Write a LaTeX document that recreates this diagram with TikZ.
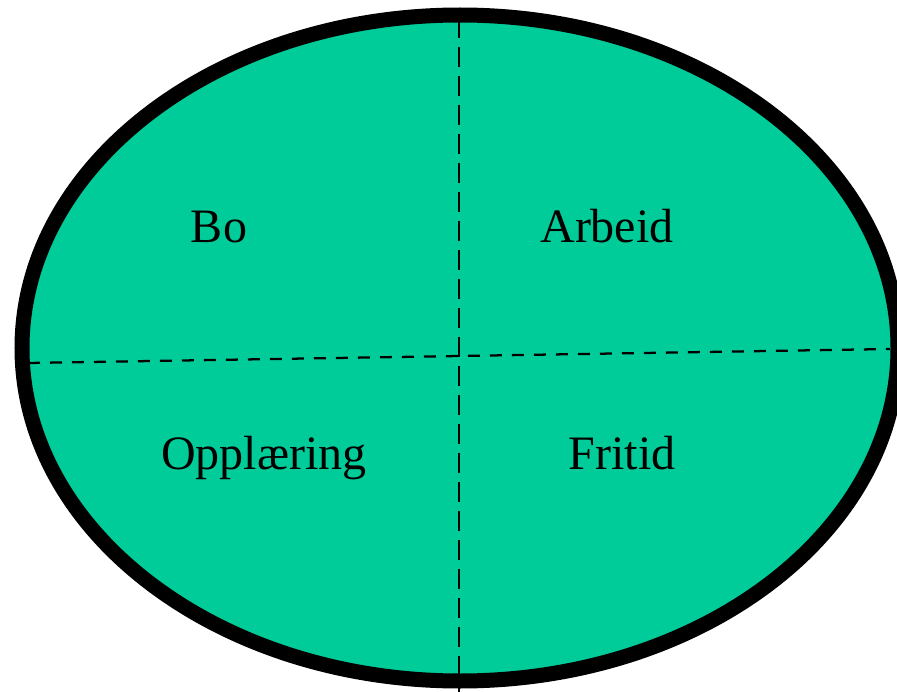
\documentclass[tikz,border=0pt]{standalone}
\usepackage{fontspec}
\setmainfont{Liberation Serif}
\usepackage{tikz}
\definecolor{fieldcol}{RGB}{0,204,153}

\begin{document}
\begin{tikzpicture}[
  x=0.75pt, y=-0.75pt,
  rim/.style={draw=black, line width=11.25pt, fill=fieldcol},
  split/.style={line width=1.7pt},
  area/.style={font=\fontsize{36}{43}\selectfont, anchor=base, inner sep=0pt}
]
  \useasboundingbox (0,0) rectangle (897,692);
  \draw[rim] (460,348) ellipse [x radius=328.5pt, y radius=249.75pt];

  \coordinate (top) at (459,18);
  \coordinate (bot) at (459,692);
  \coordinate (left) at (28,363);
  \coordinate (right) at (890,349);
  \draw[split, dash pattern=on 15pt off 6.75pt] (top) -- (bot);
  \draw[split, dash pattern=on 9pt off 7.5pt] (left) -- (right);

  \node[area] (bo) at (219,242) {Bo};
  \node[area] (arbeid) at (607,242) {Arbeid};
  \node[area] (opplaering) at (264,469) {Opplæring};
  \node[area] (fritid) at (622,469) {Fritid};
\end{tikzpicture}
\end{document}
